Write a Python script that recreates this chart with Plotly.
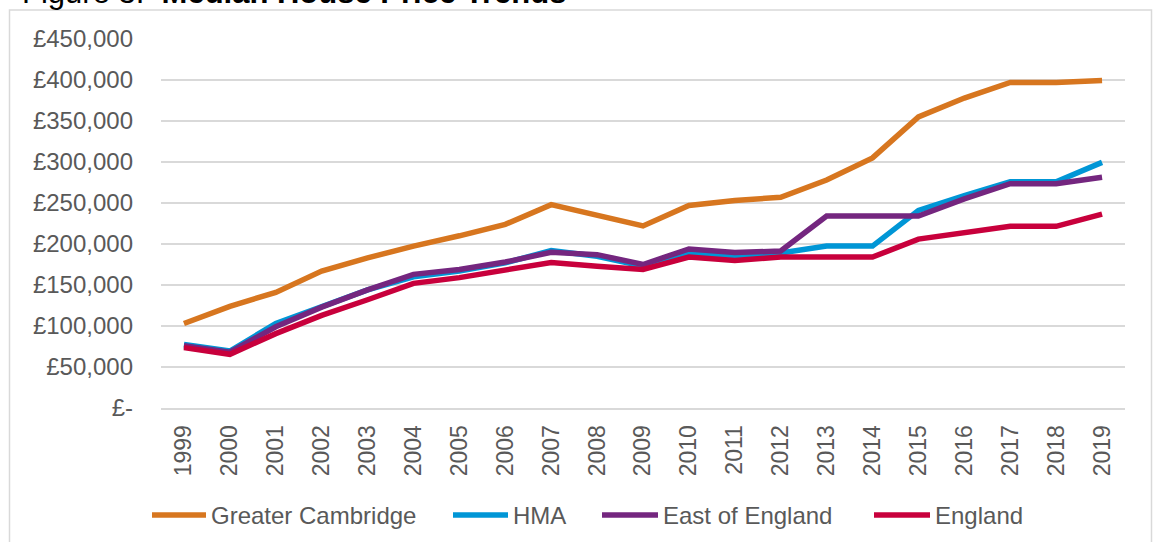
import plotly.graph_objects as go

years = [str(y) for y in range(1999, 2020)]

greater_cambridge = [103000, 124000, 141000, 167000, 183000, 197500, 210000, 224000, 248000, 235000,
                     222000, 247000, 253000, 257000, 278000, 305000, 355000, 378000, 397000, 397000, 399500]
hma = [77500, 69500, 103000, 124000, 144000, 160000, 167000, 177000, 192000, 185000,
       173000, 190000, 184000, 189000, 197500, 197500, 241000, 259000, 276000, 276000, 299500]
east_of_england = [76000, 68000, 99000, 123000, 144000, 163000, 169000, 178000, 190000, 187000,
                   175000, 194000, 189500, 191500, 234000, 234000, 234000, 255000, 273500, 273500, 281500]
england = [73600, 65500, 90700, 113000, 132000, 152000, 159000, 168000, 177500, 173000,
           169000, 184000, 180000, 184000, 184000, 184000, 206000, 214000, 221500, 221500, 236500]

series_names = ["Greater Cambridge", "HMA", "East of England", "England"]
series_values = [greater_cambridge, hma, east_of_england, england]
series_colors = ["#D7761F", "#0096D6", "#74267F", "#C8003C"]

y_ticks = [0, 50000, 100000, 150000, 200000, 250000, 300000, 350000, 400000, 450000]
y_tick_labels = ["£-", "£50,000", "£100,000", "£150,000", "£200,000", "£250,000",
                 "£300,000", "£350,000", "£400,000", "£450,000"]

W, H = 1158, 542
PL, PR, PT, PB = 161, 1125, 39, 408


def px_x(p):
    return (p - PL) / (PR - PL)


def px_y(p):
    return (PB - p) / (PB - PT)


FONT = "Liberation Sans, Arial, sans-serif"
GREY = "#595959"

fig = go.Figure()
for name, vals, col in zip(series_names, series_values, series_colors):
    fig.add_trace(go.Scatter(x=years, y=vals, mode="lines", name=name,
                             line=dict(color=col, width=5.5), showlegend=False))

shapes = []
annotations = []

# outer border of chart area
shapes.append(dict(type="rect", xref="paper", yref="paper",
                   x0=px_x(9.5), x1=px_x(1151.5), y0=px_y(560), y1=px_y(10),
                   line=dict(color="#D9D9D9", width=1.5), fillcolor="rgba(0,0,0,0)", layer="below"))

# custom legend
legend_y = px_y(515)
sample_x = [(152, 206), (453, 508), (602, 658), (874, 930)]
for (x0, x1), name, col in zip(sample_x, series_names, series_colors):
    shapes.append(dict(type="line", xref="paper", yref="paper",
                       x0=px_x(x0), x1=px_x(x1), y0=legend_y, y1=legend_y,
                       line=dict(color=col, width=5.5)))
    annotations.append(dict(xref="paper", yref="paper", x=px_x(x1 + 3), y=legend_y,
                            xanchor="left", yanchor="middle", text=name, showarrow=False,
                            font=dict(family=FONT, size=24, color=GREY)))

# title (cut off at top of the picture, as in the source)
annotations.append(dict(xref="paper", yref="paper", x=px_x(568), y=px_y(-8),
                        xanchor="right", yanchor="middle",
                        text="Figure 3:  <b>Median House Price Trends</b>", showarrow=False,
                        font=dict(family=FONT, size=31, color="#000000")))

fig.update_layout(
    width=W, height=H,
    margin=dict(l=PL, r=W - PR, t=PT, b=H - PB, autoexpand=False),
    paper_bgcolor="white", plot_bgcolor="white",
    font=dict(family=FONT, size=24, color=GREY),
    shapes=shapes, annotations=annotations,
    showlegend=False,
)
fig.update_xaxes(type="category", range=[-0.5, 20.5], tickangle=-90, showgrid=False,
                 showline=True, linecolor="#D9D9D9", linewidth=2, ticks="",
                 ticklabelstandoff=6, tickfont=dict(family=FONT, size=23, color=GREY))
fig.update_yaxes(range=[0, 450000], tickvals=y_ticks, ticktext=y_tick_labels,
                 showgrid=True, gridcolor="#D9D9D9", gridwidth=2, zeroline=False,
                 showline=False, ticks="", ticklabelstandoff=27,
                 tickfont=dict(family=FONT, size=24, color=GREY))

fig.write_html("out.html", config={"displayModeBar": False},
               post_script="document.body.style.margin='0';")
